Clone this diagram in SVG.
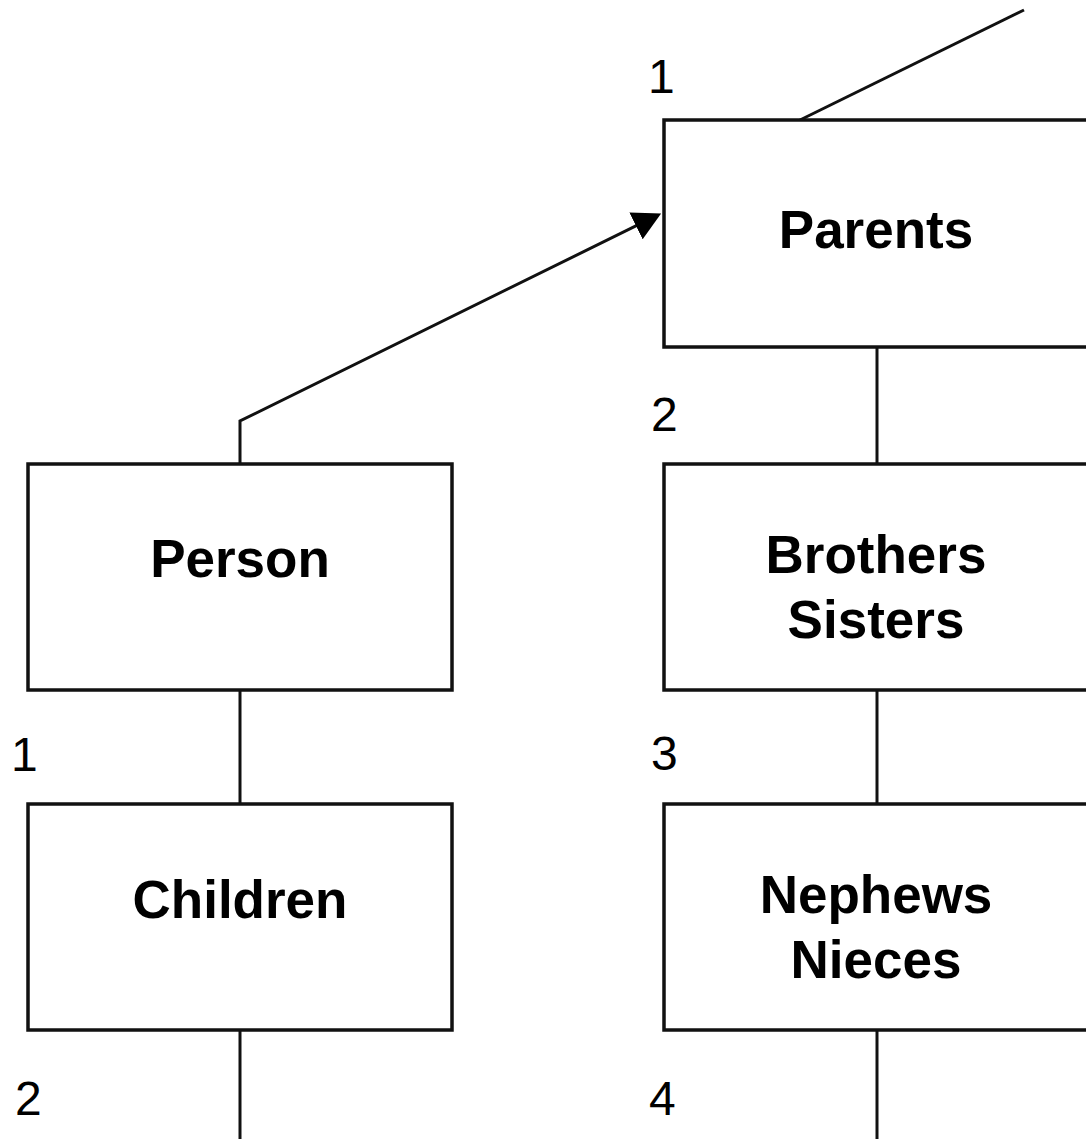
<svg xmlns="http://www.w3.org/2000/svg" width="1086" height="1139" viewBox="0 0 1086 1139">
<style>
.box{fill:#fff;stroke:#111;stroke-width:3.5}
.lbl{font-family:"Liberation Sans",Arial,sans-serif;font-weight:bold;font-size:53px;fill:#000;text-anchor:middle}
.num{font-family:"Liberation Sans",Arial,sans-serif;font-size:48px;fill:#000}
.conn{fill:none;stroke:#111;stroke-width:3}
</style>
<defs>
<marker id="arr" viewBox="0 0 28 30" refX="1" refY="15" markerWidth="28" markerHeight="30" markerUnits="userSpaceOnUse" orient="auto">
<path d="M0,0 L28,15 L0,30 z" fill="#000"/>
</marker>
</defs>
<rect width="1086" height="1139" fill="#fff"/>
<g id="connectors">
<path class="conn" d="M800,120 L1024,10"/>
<path class="conn" d="M240,464 L240,421 L636.9,225.4" marker-end="url(#arr)"/>
<path class="conn" d="M240,690 L240,804"/>
<path class="conn" d="M240,1030 L240,1139"/>
<path class="conn" d="M877,347 L877,464"/>
<path class="conn" d="M877,690 L877,804"/>
<path class="conn" d="M877,1030 L877,1139"/>
</g>
<g id="parents">
<rect class="box" x="664" y="120" width="424" height="227"/>
<text class="lbl" x="876" y="248">Parents</text>
</g>
<g id="person">
<rect class="box" x="28" y="464" width="424" height="226"/>
<text class="lbl" x="240" y="577">Person</text>
</g>
<g id="brothers-sisters">
<rect class="box" x="664" y="464" width="424" height="226"/>
<text class="lbl" x="876" y="573">Brothers</text>
<text class="lbl" x="876" y="638">Sisters</text>
</g>
<g id="children">
<rect class="box" x="28" y="804" width="424" height="226"/>
<text class="lbl" x="240" y="918">Children</text>
</g>
<g id="nephews-nieces">
<rect class="box" x="664" y="804" width="424" height="226"/>
<text class="lbl" x="876" y="913">Nephews</text>
<text class="lbl" x="876" y="978">Nieces</text>
</g>
<g id="labels">
<text class="num" x="648" y="93">1</text>
<text class="num" x="651" y="431">2</text>
<text class="num" x="651" y="770">3</text>
<text class="num" x="649" y="1115">4</text>
<text class="num" x="11" y="771">1</text>
<text class="num" x="15" y="1115">2</text>
</g>
</svg>
